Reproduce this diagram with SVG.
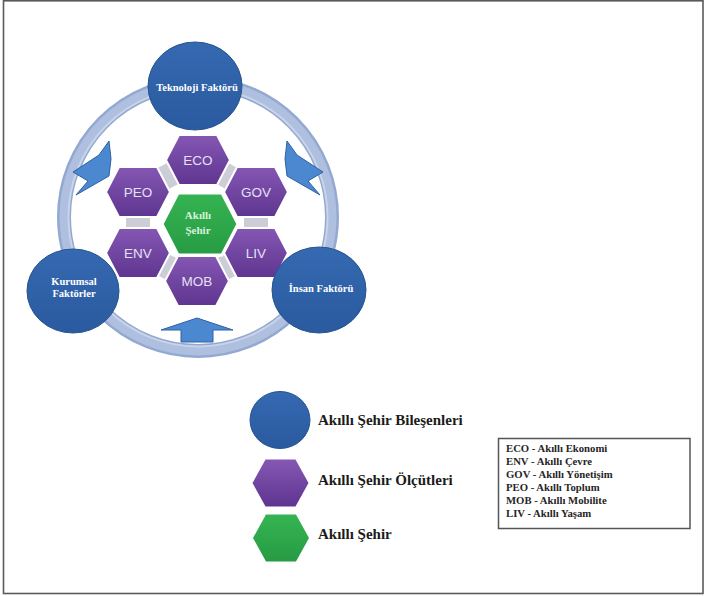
<svg xmlns="http://www.w3.org/2000/svg" width="707" height="596" viewBox="0 0 707 596">
  <defs>
    <linearGradient id="blueFill" x1="0" y1="0" x2="0" y2="1">
      <stop offset="0" stop-color="#3569b1"/>
      <stop offset="1" stop-color="#2a5a9f"/>
    </linearGradient>
    <linearGradient id="purpleFill" x1="0" y1="0" x2="0" y2="1">
      <stop offset="0" stop-color="#8457b3"/>
      <stop offset="1" stop-color="#5e3590"/>
    </linearGradient>
    <linearGradient id="greenFill" x1="0" y1="0" x2="0" y2="1">
      <stop offset="0" stop-color="#35b452"/>
      <stop offset="1" stop-color="#279b43"/>
    </linearGradient>
    <!-- hexagon shapes (flat top and bottom) -->
    <polygon id="hexSmall" points="-32,0 -19,-25 19,-25 32,0 19,25 -19,25"/>
    <polygon id="hexCenter" points="-38,0 -22,-31 22,-31 38,0 22,31 -22,31"/>
    <polygon id="hexLegend" points="-28,0 -15,-23.5 15,-23.5 28,0 15,23.5 -15,23.5"/>
    <!-- inward block arrow, left-hand version -->
    <polygon id="bentArrow" points="109,141 111,159 109,176 76,195 88,181 73,172 99,155"/>
  </defs>
  <style>
    .frame { fill: #ffffff; stroke: #5a5a5a; stroke-width: 1.6; }
    .comp { fill: url(#blueFill); stroke: #27548f; stroke-width: 1; }
    .comp-text { font-family: "Liberation Serif", "Times New Roman", serif; font-weight: bold; font-size: 10.5px; fill: #ffffff; text-anchor: middle; }
    .crit { fill: url(#purpleFill); stroke: #ffffff; stroke-width: 2; }
    .crit-text { font-family: "Liberation Sans", Arial, sans-serif; font-size: 13.5px; fill: #e6e0f2; text-anchor: middle; }
    .city { fill: url(#greenFill); stroke: #ffffff; stroke-width: 3; }
    .city-text { font-family: "Liberation Serif", "Times New Roman", serif; font-weight: bold; font-size: 11px; fill: #d9f2dc; text-anchor: middle; }
    .arrow { fill: #4c88cf; stroke: #2e62a6; stroke-width: 1; stroke-linejoin: round; }
    .legend-text { font-family: "Liberation Serif", "Times New Roman", serif; font-weight: bold; font-size: 15px; fill: #1b1b1b; }
    .key-box { fill: #ffffff; stroke: #555555; stroke-width: 1.5; }
    .key-text { font-family: "Liberation Serif", "Times New Roman", serif; font-weight: bold; font-size: 10.7px; fill: #262626; }
  </style>

  <!-- page frame -->
  <rect class="frame" x="3.5" y="0.8" width="699.5" height="592.7"/>

  <!-- connectors: ring, gray links between criteria, inward arrows -->
  <g id="connectors">
    <circle cx="198" cy="217" r="134" fill="none" stroke="#93a9d0" stroke-width="14"/>
    <circle cx="198" cy="217" r="134" fill="none" stroke="#aebfdf" stroke-width="9"/>
    <circle cx="198" cy="217" r="129.5" fill="none" stroke="#c8d4ea" stroke-width="2"/>
    <polygon points="198,160 256,192 256,253 197,281 138,253 138,192" fill="none" stroke="#cdcdd7" stroke-width="24" stroke-linejoin="round"/>
    <use href="#bentArrow" class="arrow"/>
    <use href="#bentArrow" class="arrow" transform="translate(396,0) scale(-1,1)"/>
    <polygon class="arrow" points="197,318 233,330 213,330 213,342 181,342 181,330 161,330"/>
  </g>

  <!-- smart city criteria -->
  <g id="eco"><use href="#hexSmall" class="crit" transform="translate(198,160)"/><text class="crit-text" x="198" y="164.5">ECO</text></g>
  <g id="peo"><use href="#hexSmall" class="crit" transform="translate(138,192)"/><text class="crit-text" x="138" y="196.5">PEO</text></g>
  <g id="gov"><use href="#hexSmall" class="crit" transform="translate(256,192)"/><text class="crit-text" x="256" y="196.5">GOV</text></g>
  <g id="env"><use href="#hexSmall" class="crit" transform="translate(138,253)"/><text class="crit-text" x="138" y="257.5">ENV</text></g>
  <g id="liv"><use href="#hexSmall" class="crit" transform="translate(256,253)"/><text class="crit-text" x="256" y="257.5">LIV</text></g>
  <g id="mob"><use href="#hexSmall" class="crit" transform="translate(197,281)"/><text class="crit-text" x="197" y="285.5">MOB</text></g>

  <!-- smart city core -->
  <g id="akilli-sehir">
    <use href="#hexCenter" class="city" transform="translate(200,224)"/>
    <text class="city-text" x="198" y="219">Akıllı</text>
    <text class="city-text" x="198" y="234">Şehir</text>
  </g>

  <!-- smart city components -->
  <g id="teknoloji">
    <ellipse class="comp" cx="195" cy="86" rx="47" ry="44"/>
    <text class="comp-text" x="197" y="91">Teknoloji Faktörü</text>
  </g>
  <g id="kurumsal">
    <ellipse class="comp" cx="73" cy="291" rx="46" ry="42"/>
    <text class="comp-text" x="74" y="285">Kurumsal</text>
    <text class="comp-text" x="74" y="297">Faktörler</text>
  </g>
  <g id="insan">
    <ellipse class="comp" cx="319" cy="290" rx="47" ry="43"/>
    <text class="comp-text" x="321" y="292">İnsan Faktörü</text>
  </g>

  <!-- legend -->
  <g id="legend-components">
    <ellipse class="comp" cx="280" cy="420" rx="30" ry="28.5"/>
    <text class="legend-text" x="318" y="424.5">Akıllı Şehir Bileşenleri</text>
  </g>
  <g id="legend-criteria">
    <use href="#hexLegend" fill="url(#purpleFill)" transform="translate(280.5,483)"/>
    <text class="legend-text" x="318" y="484.5">Akıllı Şehir Ölçütleri</text>
  </g>
  <g id="legend-city">
    <use href="#hexLegend" fill="url(#greenFill)" transform="translate(281,538)"/>
    <text class="legend-text" x="318" y="539">Akıllı Şehir</text>
  </g>

  <!-- abbreviation key -->
  <g id="key">
    <rect class="key-box" x="498.5" y="438.5" width="191.5" height="90"/>
    <text class="key-text" x="506" y="452">ECO - Akıllı Ekonomi</text>
    <text class="key-text" x="506" y="465.3">ENV - Akıllı Çevre</text>
    <text class="key-text" x="506" y="478">GOV - Akıllı Yönetişim</text>
    <text class="key-text" x="506" y="490.5">PEO - Akıllı Toplum</text>
    <text class="key-text" x="506" y="503.7">MOB - Akıllı Mobilite</text>
    <text class="key-text" x="506" y="517">LIV - Akıllı Yaşam</text>
  </g>
</svg>
